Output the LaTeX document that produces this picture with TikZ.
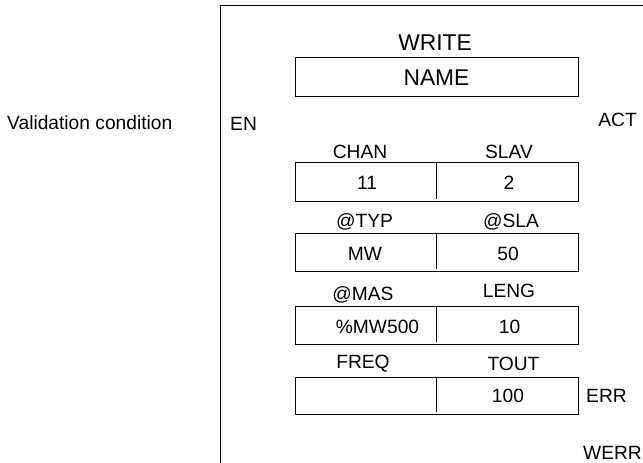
\documentclass[tikz,border=0pt]{standalone}
\usepackage{fontspec}
\setmainfont{Liberation Sans}
\begin{document}
\begin{tikzpicture}[x=1pt,y=-1pt,
  txt/.style={inner sep=0pt, text height=13.75pt, text depth=0pt,
    font=\fontsize{19.2pt}{22pt}\selectfont},
  title/.style={inner sep=0pt, text height=16.3pt, text depth=0pt,
    font=\fontsize{22.8pt}{26pt}\selectfont},
  box/.style={draw, line width=0.9pt, minimum width=283pt, inner sep=0pt},
  frame/.style={line width=0.9pt}]
\useasboundingbox (0,0) rectangle (643,463);

% block frame, open at right and bottom
\coordinate (ftl) at (220,5);
\coordinate (ftr) at (643,5);
\coordinate (fbl) at (220,463);
\draw[frame] (fbl) -- (ftl) -- (ftr);

% block name
\node[title] (write) at (435,42) {WRITE};
\node[box, minimum height=39pt] (namebox) at (436.5,76.5) {};
\node[title] (name) at (436.5,77) {NAME};

% inputs / outputs
\node[txt, anchor=west] (valid) at (7,123) {Validation condition};
\node[txt, anchor=west] (en) at (230,124) {EN};
\node[txt, anchor=east] (act) at (637,120) {ACT};
\node[txt, anchor=west] (err) at (586,396) {ERR};
\node[txt, anchor=west] (werr) at (583,453) {WERR};

% parameter boxes
\node[box, minimum height=39pt] (b1) at (436.5,181.5) {};
\node[box, minimum height=38pt] (b2) at (436.5,252) {};
\node[box, minimum height=38pt] (b3) at (436.5,325) {};
\node[box, minimum height=37pt] (b4) at (436.5,395.5) {};
\foreach \b in {b1,b2,b3,b4}
  \draw[line width=0.9pt] ([xshift=-0.5pt]\b.north) -- ([xshift=-0.5pt,yshift=2pt]\b.south);

% parameter names
\node[txt] (chan) at (360,151.7) {CHAN};
\node[txt] (slav) at (509,152) {SLAV};
\node[txt] (typ) at (364.5,221) {@TYP};
\node[txt] (sla) at (511,221) {@SLA};
\node[txt] (mas) at (363,294) {@MAS};
\node[txt] (leng) at (509,290.3) {LENG};
\node[txt] (freq) at (363,362) {FREQ};
\node[txt] (tout) at (513.5,363.8) {TOUT};

% parameter values
\node[txt] (v11) at (367,182.5) {11};
\node[txt] (v2) at (509,182.5) {2};
\node[txt] (vmw) at (365,254) {MW};
\node[txt] (v50) at (508,254) {50};
\node[txt] (vmas) at (377.5,327) {\%MW500};
\node[txt] (v10) at (509.5,327) {10};
\node[txt] (v100) at (508,396) {100};
\end{tikzpicture}
\end{document}
